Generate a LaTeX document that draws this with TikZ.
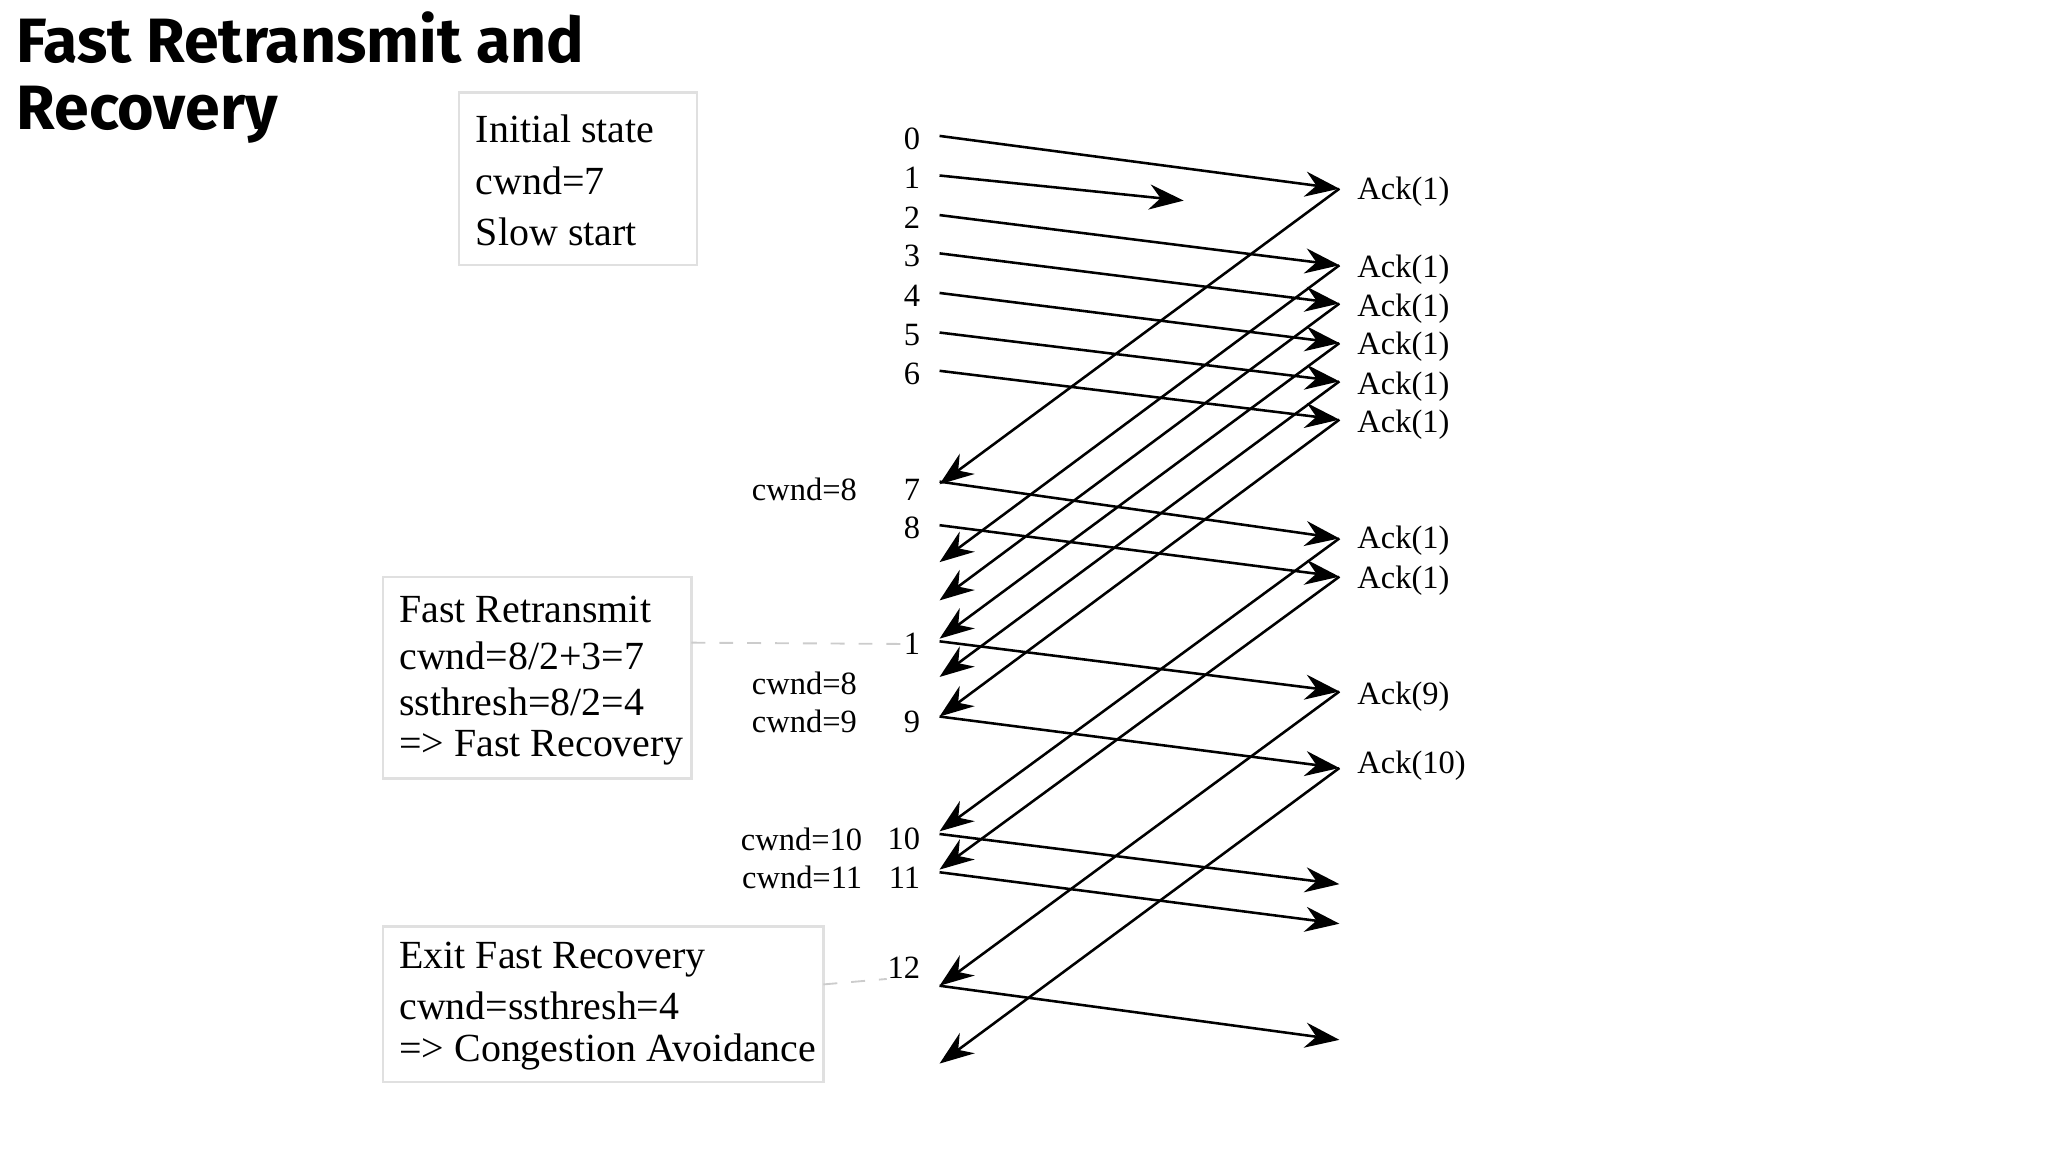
\documentclass[tikz,border=0pt]{standalone}
\usepackage{fontspec}
\setmainfont{Liberation Serif}
\newfontfamily\titlefont{Fira Sans}
\usetikzlibrary{arrows.meta}
\begin{document}
\begin{tikzpicture}[x=0.01cm,y=-0.01cm,
  msg/.style={line width=0.55pt,-{Stealth[length=2.6mm,width=1.9mm]}},
  lbl/.style={font=\fontsize{7}{8}\selectfont,inner sep=0pt},
  box/.style={draw=black!12,line width=0.5pt,inner sep=0pt},
  boxtxt/.style={font=\fontsize{8.6}{10}\selectfont,inner sep=0pt,anchor=west},
  guide/.style={draw=black!20,dashed,line width=0.4pt}]
\useasboundingbox (0,0) rectangle (1552,873);
% title
\node[anchor=north west,inner sep=0pt,align=left,font=\titlefont\bfseries\fontsize{13.5}{14.5}\selectfont] (title) at (12,8) {Fast Retransmit and\\Recovery};
% coordinates
\foreach \y in {103,133,163,192,222,252,281,365,398,486,543,632,661,747,367,426,455,484,513,630,659,806}
  \coordinate (L\y) at (712,\y);
\foreach \y in {143,201,230,260,289,318,408,437,524,582,670,700,788}
  \coordinate (R\y) at (1015,\y);
\coordinate (lost) at (897,152);
% sequence labels
\foreach \t/\y in {0/105,1/135,2/165,3/194,4/224,5/254,6/283,7/371,8/400,1/488,9/547,10/636,11/665,12/733}
  \node[lbl,anchor=east] (n\y) at (698,\y) {\t};
% acks
\foreach \t/\y in {1/145,1/204,1/234,1/263,1/293,1/322,1/410,1/440,9/528,10/580}
  \node[lbl,anchor=west] (a\y) at (1028,\y) {Ack(\t)};
% cwnd labels
\node[lbl,anchor=east] (c1) at (650,371) {cwnd=8};
\node[lbl,anchor=east] (c2) at (650,518) {cwnd=8};
\node[lbl,anchor=east] (c3) at (650,547) {cwnd=9};
\node[lbl,anchor=east] (c4) at (654,636) {cwnd=10};
\node[lbl,anchor=east] (c5) at (654,665) {cwnd=11};
% forward
\draw[msg] (L103) -- (R143);
\draw[msg] (L133) -- (lost);
\draw[msg] (L163) -- (R201);
\draw[msg] (L192) -- (R230);
\draw[msg] (L222) -- (R260);
\draw[msg] (L252) -- (R289);
\draw[msg] (L281) -- (R318);
\draw[msg] (L365) -- (R408);
\draw[msg] (L398) -- (R437);
\draw[msg] (L486) -- (R524);
\draw[msg] (L543) -- (R582);
\draw[msg] (L632) -- (R670);
\draw[msg] (L661) -- (R700);
\draw[msg] (L747) -- (R788);
% backward
\draw[msg] (R143) -- (L367);
\draw[msg] (R201) -- (L426);
\draw[msg] (R230) -- (L455);
\draw[msg] (R260) -- (L484);
\draw[msg] (R289) -- (L513);
\draw[msg] (R318) -- (L543);
\draw[msg] (R408) -- (L630);
\draw[msg] (R437) -- (L659);
\draw[msg] (R524) -- (L747);
\draw[msg] (R582) -- (L806);
% boxes
\draw[box] (348,70) rectangle (528,201);
\node[boxtxt] (b1a) at (360,98) {Initial state};
\node[boxtxt] (b1b) at (360,137) {cwnd=7};
\node[boxtxt] (b1c) at (360,176) {Slow start};
\draw[box] (290,437) rectangle (524,590);
\coordinate (b2r) at (524,487);
\node[boxtxt] (b2a) at (302,462) {Fast Retransmit};
\node[boxtxt] (b2b) at (302,497) {cwnd=8/2+3=7};
\node[boxtxt] (b2c) at (302,532) {ssthresh=8/2=4};
\node[boxtxt] (b2d) at (302,567) {=> Fast Recovery};
\draw[box] (290,702) rectangle (624,820);
\coordinate (b3r) at (624,746);
\node[boxtxt] (b3a) at (302,727) {Exit Fast Recovery};
\node[boxtxt] (b3b) at (302,762) {cwnd=ssthresh=4};
\node[boxtxt] (b3c) at (302,797) {=> Congestion Avoidance};
\draw[guide] (b2r) -- (n488.west);
\draw[guide] (b3r) -- (n733.south west);
\end{tikzpicture}
\end{document}
